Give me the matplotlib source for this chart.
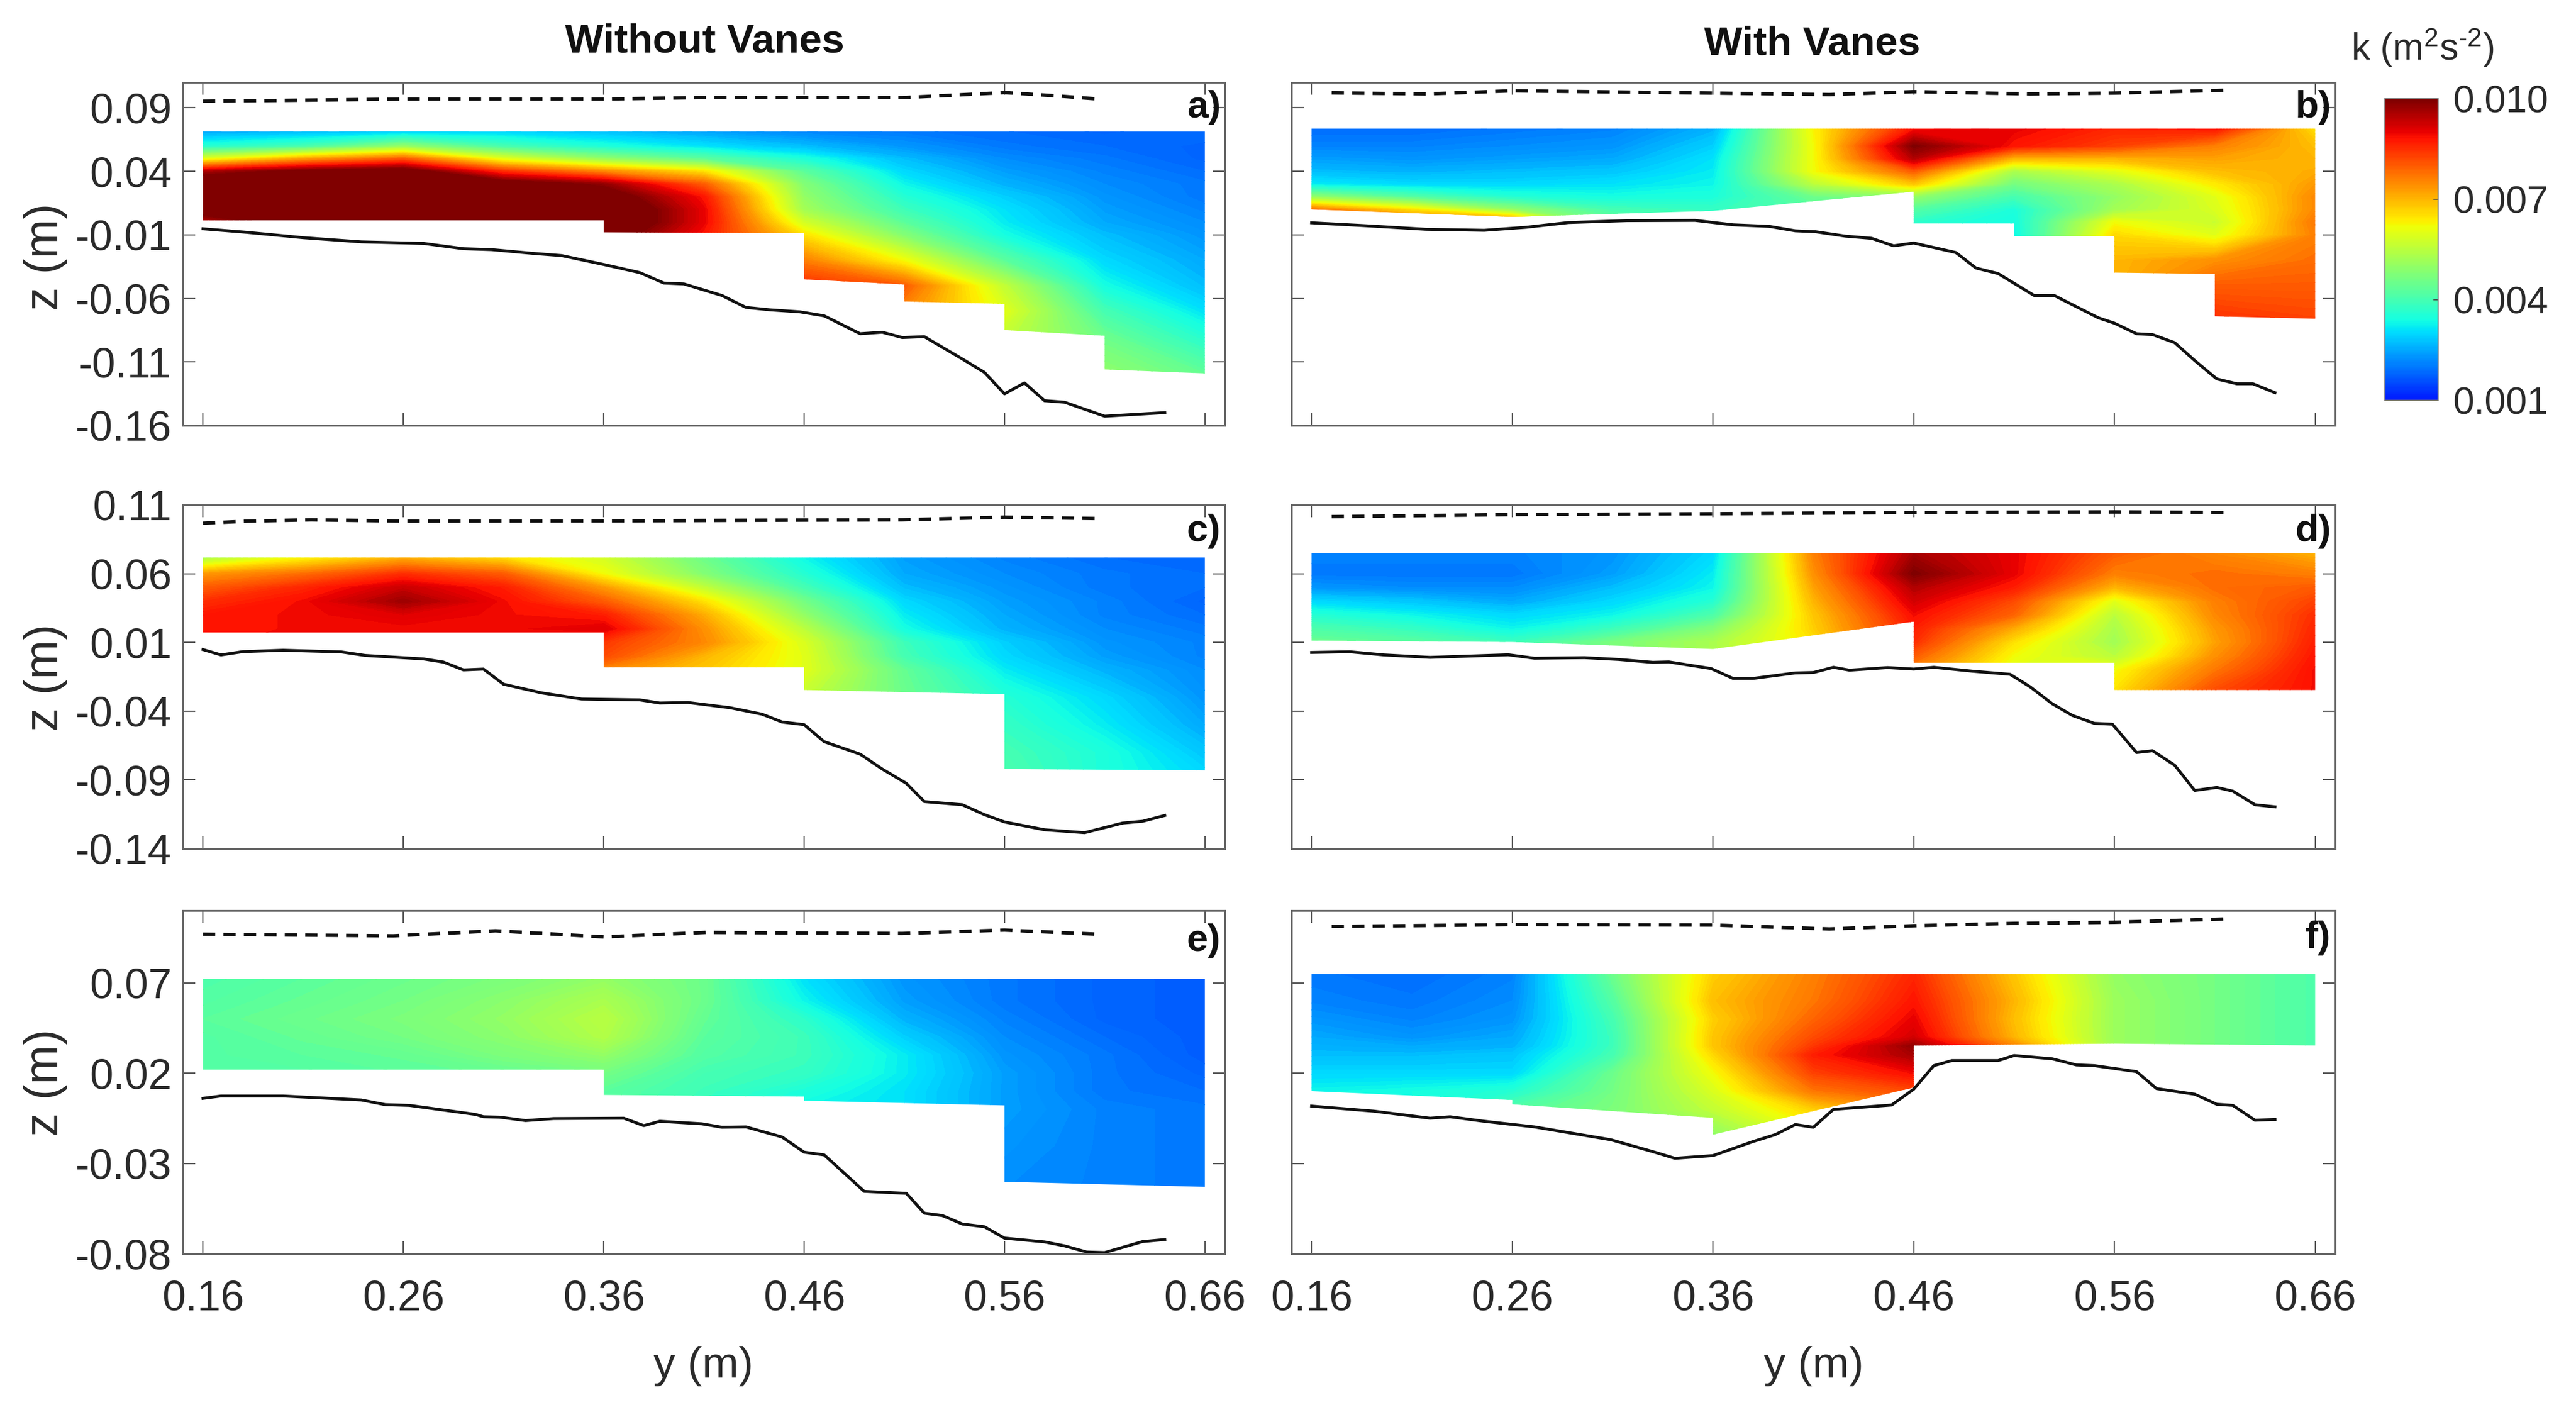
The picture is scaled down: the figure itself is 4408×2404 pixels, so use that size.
import numpy as np
import matplotlib
matplotlib.use("Agg")
import matplotlib.pyplot as plt
from matplotlib.colors import ListedColormap, Normalize
from matplotlib.cm import ScalarMappable
from matplotlib.patches import Polygon

W, H = 4408, 2404
plt.rcParams['font.family'] = ['Liberation Sans', 'DejaVu Sans']
plt.rcParams['mathtext.default'] = 'regular'

y_cols = [0.16, 0.21, 0.26, 0.31, 0.36, 0.41, 0.46, 0.51, 0.56, 0.61, 0.66]
y_ticks = [0.16, 0.26, 0.36, 0.46, 0.56, 0.66]
y_ticklabels = ['0.16', '0.26', '0.36', '0.46', '0.56', '0.66']

# k in units of 0.001, one list per y column, top to bottom
z_a = [0.072, 0.06, 0.05, 0.04, 0.03, 0.02, 0.01, 0.0, -0.01, -0.03, -0.05, -0.07, -0.09, -0.12]
k_a = [
    [2.4, 3.6, 6.0, 9.5, 11, 11, 10.5, 9.3, 9, 9, 9, 9, 9, 9],
    [2.6, 4, 7.2, 10.2, 11, 11, 11, 10.5, 10, 10, 10, 10, 10, 10],
    [2.8, 5, 8, 10.5, 11, 11, 11, 11, 11, 11, 11, 11, 11, 11],
    [2.9, 4, 6, 8.5, 10.5, 11, 11, 11, 11, 11, 11, 11, 11, 11],
    [2.7, 3.5, 5, 7.5, 9.8, 10.5, 11, 11, 10.5, 10, 10, 10, 10, 10],
    [2.4, 3.1, 4.3, 6.5, 8, 8.8, 9, 9, 8.8, 8.5, 8.5, 8.5, 8.5, 8.5],
    [2.1, 2.7, 3.5, 4.3, 4.8, 5, 5.2, 5.8, 6.5, 7.6, 8.6, 8.6, 8.6, 8.6],
    [2.0, 2.3, 2.7, 3, 3.3, 3.6, 3.9, 4.3, 4.8, 6.2, 8, 7.5, 7.5, 7.5],
    [1.9, 2.0, 2.2, 2.4, 2.6, 2.9, 3.1, 3.2, 3.4, 4.3, 5.6, 6, 5.6, 5.6],
    [1.8, 1.9, 2.0, 2.1, 2.2, 2.3, 2.4, 2.5, 2.7, 3, 3.4, 4, 4.5, 5],
    [1.9, 1.8, 1.8, 1.9, 2.0, 2.0, 2.1, 2.2, 2.3, 2.5, 2.7, 3.1, 3.6, 4.4],
]
z_b = [0.0736, 0.06, 0.05, 0.04, 0.03, 0.02, 0.01, 0.0, -0.01, -0.03, -0.05, -0.077]
k_b = [
    [1.9, 2.1, 2.4, 2.7, 3.2, 5, 7.8, 7.8, 7.8, 7.8, 7.8, 7.8],
    [1.9, 2.1, 2.3, 2.6, 3, 4.2, 6.5, 8, 8, 8, 8, 8],
    [2.0, 2.2, 2.4, 2.7, 3, 3.6, 5, 8, 8, 8, 8, 8],
    [2.1, 2.3, 2.5, 2.8, 3.1, 3.4, 4, 4.5, 4.5, 4.5, 4.5, 4.5],
    [2.6, 2.9, 3.1, 3.2, 3.3, 3.5, 3.8, 4, 4, 4, 4, 4],
    [6.3, 6.2, 6.2, 6.2, 5.5, 4.5, 4.2, 4, 4, 4, 4, 4],
    [8.8, 10, 9.5, 8, 6.8, 5, 4.2, 3.7, 3.7, 3.7, 3.7, 3.7],
    [9, 8.8, 7, 5.3, 4.6, 4, 3.5, 3.4, 3.3, 3.3, 3.3, 3.3],
    [8.6, 8.3, 7, 6, 5.3, 5, 5.2, 6.2, 6.6, 7, 7, 7],
    [8.8, 7.6, 7.2, 6.9, 6.4, 6, 5.9, 5.7, 6, 7.4, 8, 8.5],
    [6.5, 6.9, 7, 7.1, 7.3, 7.5, 7.5, 7.7, 7.6, 7.8, 8, 8.3],
]
z_c = [0.072, 0.06, 0.05, 0.04, 0.03, 0.02, 0.01, 0.0, -0.01, -0.03, -0.05, -0.07, -0.085]
k_c = [
    [5.2, 7.3, 8, 8.5, 8.8, 8.8, 8.8, 8.8, 8.8, 8.8, 8.8, 8.8, 8.8],
    [6.2, 7.8, 8.6, 8.9, 8.9, 8.9, 9, 9, 9, 9, 9, 9, 9],
    [7, 8.5, 9.3, 9.7, 9.1, 8.9, 8.9, 8.9, 8.9, 8.9, 8.9, 8.9, 8.9],
    [6.5, 8, 8.7, 8.9, 8.9, 8.9, 8.9, 8.9, 8.9, 8.9, 8.9, 8.9, 8.9],
    [5.8, 6.2, 7.3, 8, 8.7, 9.1, 8.4, 8.2, 7.5, 7.5, 7.5, 7.5, 7.5],
    [4.5, 4.8, 5.6, 6.5, 7.1, 7.4, 7.5, 7, 6.8, 6.8, 6.8, 6.8, 6.8],
    [3.3, 3.6, 4, 4.6, 5, 5.5, 5.9, 6, 6, 5.6, 5.6, 5.6, 5.6],
    [2.4, 2.5, 2.7, 3, 3.2, 3.4, 3.9, 4, 4.4, 4.5, 4.5, 4.5, 4.5],
    [2.1, 2.2, 2.3, 2.4, 2.5, 2.6, 2.9, 3, 3.2, 3.6, 3.8, 4, 4.1],
    [1.9, 2.0, 2.0, 2.1, 2.1, 2.2, 2.3, 2.4, 2.6, 3, 3.2, 3.5, 3.5],
    [1.9, 1.9, 1.9, 1.8, 1.9, 2.0, 2.1, 2.1, 2.2, 2.3, 2.5, 2.8, 3],
]
z_d = [0.0755, 0.06, 0.05, 0.04, 0.03, 0.02, 0.01, 0.0, -0.01, -0.025]
k_d = [
    [2.1, 2.0, 2.3, 3, 3.6, 4.1, 4.5, 4.5, 4.5, 4.5],
    [2.1, 2.0, 2.2, 2.8, 3.3, 3.8, 4.3, 4.3, 4.3, 4.3],
    [2.1, 2.0, 2.2, 2.5, 3, 3.3, 3.9, 3.9, 3.9, 3.9],
    [2.3, 2.4, 2.7, 3, 3.3, 3.9, 4.7, 4.7, 4.7, 4.7],
    [3, 3.2, 3.3, 3.6, 4.1, 4.8, 5.3, 5.3, 5.3, 5.3],
    [7.6, 7.4, 7.2, 7, 6.8, 6.7, 6.5, 6.5, 6.5, 6.5],
    [9.6, 10, 9.5, 9.2, 8.9, 8.7, 8.5, 8, 7.5, 7],
    [9, 9, 8.7, 8.2, 7.9, 7.1, 6.5, 6.2, 6, 6],
    [8, 7.6, 7, 6, 5.5, 5.3, 5.2, 5.5, 6.2, 6.5],
    [7.5, 7.8, 7.8, 7.6, 7.5, 7.3, 7.2, 7.4, 7.7, 8.2],
    [7, 7.6, 8, 8.3, 8.5, 8.6, 8.7, 8.8, 8.9, 8.9],
]
z_e = [0.0725, 0.06, 0.05, 0.04, 0.03, 0.02, 0.01, 0.0, -0.02, -0.045]
k_e = [
    [4.1, 4.2, 4.3, 4.2, 4.2, 4.2, 4.2, 4.2, 4.2, 4.2],
    [4.3, 4.4, 4.5, 4.4, 4.3, 4.2, 4.2, 4.2, 4.2, 4.2],
    [4.5, 4.6, 4.7, 4.6, 4.4, 4.3, 4.3, 4.3, 4.3, 4.3],
    [4.7, 4.9, 5, 4.9, 4.7, 4.4, 4.4, 4.4, 4.4, 4.4],
    [5, 5.3, 5.5, 5.4, 5, 4.6, 4.3, 4.3, 4.3, 4.3],
    [4.5, 4.5, 4.4, 4.3, 4.2, 4, 3.9, 3.8, 3.8, 3.8],
    [3.1, 3.3, 3.7, 3.9, 3.9, 3.8, 3.5, 3.3, 3.3, 3.3],
    [2.3, 2.4, 2.6, 2.9, 3.2, 3.2, 3.1, 3.1, 3.1, 3.1],
    [2.0, 2.0, 2.1, 2.2, 2.3, 2.4, 2.4, 2.4, 2.3, 2.2],
    [1.8, 1.8, 1.8, 1.9, 2.0, 2.0, 2.0, 2.1, 2.1, 2.1],
    [1.7, 1.7, 1.7, 1.7, 1.7, 1.8, 1.9, 2.0, 2.0, 2.0],
]
z_f = [0.075, 0.06, 0.05, 0.04, 0.035, 0.03, 0.02, 0.01, 0.0, -0.015]
k_f = [
    [2.0, 2.1, 2.3, 2.5, 2.6, 2.7, 3, 3.3, 3.3, 3.3],
    [1.9, 2.0, 2.1, 2.3, 2.5, 2.7, 3, 3.4, 3.4, 3.4],
    [2.1, 2.2, 2.3, 2.5, 2.6, 2.8, 3, 3.6, 4.2, 4.2],
    [4.5, 4.2, 4, 3.9, 3.9, 4, 4.5, 4.6, 4.7, 4.8],
    [6.7, 6.9, 6.7, 6.8, 6.8, 6.6, 6.2, 5.9, 5.6, 4.9],
    [7.6, 7.7, 7.9, 8.2, 8.4, 8.7, 8.3, 7.7, 6.7, 6],
    [8.6, 8.8, 9, 9.2, 9.8, 9.6, 8.9, 8.2, 7.4, 7],
    [6.8, 7, 6.9, 7, 7.5, 7.5, 7.5, 7.5, 7.5, 7.5],
    [5, 5.1, 5.1, 5.1, 5.1, 5.1, 5.1, 5.1, 5.1, 5.1],
    [4.6, 4.6, 4.6, 4.6, 4.6, 4.6, 4.6, 4.6, 4.6, 4.6],
    [4.1, 4.1, 4.1, 4.1, 4.1, 4.1, 4.1, 4.1, 4.1, 4.1],
]

# outline of the measured region: top edge, then lower edge right to left
edge_a_y = [0.66, 0.61, 0.61, 0.56, 0.56, 0.51, 0.51, 0.46, 0.46, 0.36, 0.36, 0.16]
edge_a_z = [-0.119, -0.1159, -0.0894, -0.0849, -0.0643, -0.0624, -0.049, -0.045, -0.0087, -0.008, 0.0014, 0.0014]
top_a = 0.0713
edge_b_y = [0.66, 0.61, 0.61, 0.56, 0.56, 0.51, 0.51, 0.46, 0.46, 0.36, 0.26, 0.16]
edge_b_z = [-0.076, -0.0741, -0.0408, -0.0397, -0.011, -0.011, -0.001, -0.001, 0.0241, 0.0089, 0.0042, 0.0101]
top_b = 0.0736
edge_c_y = [0.66, 0.56, 0.56, 0.46, 0.46, 0.36, 0.36, 0.16]
edge_c_z = [-0.0831, -0.0821, -0.0276, -0.0246, -0.0081, -0.0081, 0.0172, 0.0172]
top_c = 0.0718
edge_d_y = [0.66, 0.56, 0.56, 0.46, 0.46, 0.36, 0.26, 0.16]
edge_d_z = [-0.0246, -0.0246, -0.0048, -0.0048, 0.0251, 0.0052, 0.0103, 0.0113]
top_d = 0.0751
edge_e_y = [0.66, 0.56, 0.56, 0.46, 0.46, 0.36, 0.36, 0.16]
edge_e_z = [-0.043, -0.0402, 0.0021, 0.0047, 0.007, 0.0079, 0.0219, 0.0219]
top_e = 0.0721
edge_f_y = [0.66, 0.56, 0.46, 0.46, 0.36, 0.36, 0.26, 0.26, 0.16]
edge_f_z = [0.0353, 0.0363, 0.0353, 0.012, -0.0141, -0.0048, 0.0027, 0.0051, 0.01]
top_f = 0.0749

# channel bed
bed_a_y = [0.16, 0.182, 0.21, 0.239, 0.27, 0.29, 0.304, 0.325, 0.339, 0.36, 0.378, 0.39, 0.4, 0.419, 0.431, 0.443, 0.458, 0.47, 0.488, 0.499, 0.509, 0.52, 0.539, 0.55, 0.56, 0.57, 0.58, 0.59, 0.61, 0.64]
bed_a_z = [-0.0052, -0.008, -0.0122, -0.0155, -0.0167, -0.0209, -0.0216, -0.0246, -0.0263, -0.0333, -0.0397, -0.0479, -0.0486, -0.0577, -0.0671, -0.069, -0.0706, -0.0737, -0.0878, -0.0866, -0.0908, -0.0901, -0.1077, -0.1182, -0.1351, -0.1265, -0.1405, -0.1417, -0.1527, -0.1499]
bed_b_y = [0.16, 0.187, 0.217, 0.246, 0.267, 0.288, 0.317, 0.351, 0.37, 0.388, 0.401, 0.411, 0.426, 0.439, 0.45, 0.46, 0.481, 0.491, 0.502, 0.52, 0.53, 0.552, 0.56, 0.571, 0.579, 0.59, 0.6, 0.611, 0.621, 0.629, 0.64]
bed_b_z = [-0.0005, -0.0028, -0.0056, -0.0064, -0.004, -0.0003, 0.0012, 0.0014, -0.0021, -0.0033, -0.0068, -0.0075, -0.011, -0.0127, -0.0186, -0.0164, -0.0239, -0.0361, -0.0404, -0.0577, -0.0577, -0.0753, -0.0795, -0.0878, -0.0885, -0.0948, -0.1089, -0.1234, -0.1272, -0.1272, -0.1342]
bed_c_y = [0.16, 0.169, 0.18, 0.2, 0.229, 0.241, 0.27, 0.28, 0.29, 0.3, 0.31, 0.329, 0.349, 0.378, 0.388, 0.402, 0.423, 0.439, 0.449, 0.46, 0.47, 0.488, 0.499, 0.511, 0.52, 0.539, 0.55, 0.56, 0.58, 0.6, 0.619, 0.629, 0.64]
bed_c_z = [0.0048, 0.0009, 0.0033, 0.0043, 0.0031, 0.0005, -0.002, -0.0043, -0.01, -0.0094, -0.0204, -0.0267, -0.0312, -0.0318, -0.0341, -0.0337, -0.0375, -0.0422, -0.0479, -0.0498, -0.0622, -0.0713, -0.0821, -0.0925, -0.1058, -0.1081, -0.1153, -0.1206, -0.1263, -0.1284, -0.1214, -0.1201, -0.1159]
bed_d_y = [0.16, 0.179, 0.196, 0.219, 0.258, 0.271, 0.296, 0.313, 0.33, 0.338, 0.359, 0.37, 0.38, 0.401, 0.41, 0.42, 0.428, 0.447, 0.46, 0.47, 0.489, 0.508, 0.518, 0.529, 0.539, 0.55, 0.559, 0.571, 0.579, 0.59, 0.6, 0.611, 0.619, 0.63, 0.64]
bed_d_z = [0.0027, 0.0032, 0.0009, -0.0009, 0.001, -0.0015, -0.0011, -0.0024, -0.0045, -0.0042, -0.009, -0.0162, -0.0162, -0.0122, -0.0119, -0.0081, -0.0102, -0.0083, -0.0094, -0.0081, -0.0109, -0.0132, -0.0223, -0.0346, -0.0431, -0.0489, -0.0495, -0.0701, -0.0688, -0.0793, -0.0977, -0.0955, -0.0982, -0.1081, -0.1096]
bed_e_y = [0.16, 0.169, 0.2, 0.216, 0.239, 0.251, 0.263, 0.296, 0.3, 0.308, 0.321, 0.335, 0.37, 0.38, 0.388, 0.409, 0.419, 0.431, 0.449, 0.46, 0.47, 0.49, 0.511, 0.52, 0.529, 0.539, 0.55, 0.56, 0.58, 0.59, 0.601, 0.61, 0.629, 0.64]
bed_e_z = [0.006, 0.0073, 0.0073, 0.0064, 0.0051, 0.0025, 0.0021, -0.0029, -0.0042, -0.0044, -0.0063, -0.0052, -0.005, -0.0091, -0.0067, -0.0081, -0.01, -0.0098, -0.0154, -0.0238, -0.0253, -0.0455, -0.0466, -0.0576, -0.0589, -0.0636, -0.0651, -0.0714, -0.0735, -0.0757, -0.0791, -0.0794, -0.0733, -0.0722]
bed_f_y = [0.16, 0.191, 0.219, 0.229, 0.246, 0.271, 0.309, 0.33, 0.341, 0.36, 0.38, 0.391, 0.401, 0.41, 0.42, 0.449, 0.46, 0.47, 0.479, 0.502, 0.51, 0.529, 0.541, 0.55, 0.571, 0.581, 0.6, 0.611, 0.619, 0.63, 0.64]
bed_f_z = [0.0017, -0.0011, -0.005, -0.0042, -0.0067, -0.0098, -0.0169, -0.0235, -0.0272, -0.0257, -0.0179, -0.0141, -0.0085, -0.01, -0.0001, 0.0023, 0.0111, 0.0241, 0.0269, 0.0269, 0.0297, 0.0279, 0.0245, 0.0241, 0.0208, 0.0114, 0.0083, 0.0027, 0.0021, -0.0061, -0.0057]

# water surface
surf_a_y = [0.16, 0.2635, 0.3595, 0.4065, 0.509, 0.534, 0.56, 0.586, 0.607]
surf_a_z = [0.0952, 0.0969, 0.0969, 0.098, 0.098, 0.0999, 0.102, 0.0994, 0.0969]
surf_b_y = [0.17, 0.217, 0.26, 0.36, 0.418, 0.46, 0.518, 0.56, 0.617]
surf_b_z = [0.1018, 0.1009, 0.1034, 0.1016, 0.1004, 0.1027, 0.1009, 0.1016, 0.1039]
surf_c_y = [0.16, 0.182, 0.214, 0.263, 0.362, 0.46, 0.509, 0.56, 0.607]
surf_c_z = [0.0967, 0.0982, 0.0992, 0.0982, 0.0984, 0.099, 0.0992, 0.1011, 0.1001]
surf_d_y = [0.17, 0.26, 0.36, 0.46, 0.56, 0.617]
surf_d_z = [0.1015, 0.103, 0.1036, 0.1045, 0.1049, 0.1045]
surf_e_y = [0.16, 0.255, 0.306, 0.36, 0.411, 0.509, 0.56, 0.607]
surf_e_z = [0.0969, 0.096, 0.0988, 0.0954, 0.0979, 0.0973, 0.0992, 0.0969]
surf_f_y = [0.17, 0.26, 0.36, 0.418, 0.46, 0.51, 0.56, 0.617]
surf_f_z = [0.1012, 0.1022, 0.102, 0.0998, 0.1016, 0.1029, 0.1035, 0.1054]

cbar_ticks = [0.001, 0.004, 0.007, 0.010]

cmap = ListedColormap(plt.cm.jet(np.linspace(0.15, 1.0, 256)))
norm = Normalize(0.001, 0.010)
levels = np.linspace(0.001, 0.010, 121)
FS = 52
TICK_COL = '#2a2a2a'


def box(l, t, r, b):
    return [l / W, 1 - b / H, (r - l) / W, (b - t) / H]


def draw_panel(rect, ylim, yticks, z, k, edge_y, edge_z, top, bed_y, bed_z, surf_y, surf_z, letter, letter_y, left, bottom):
    ax = fig.add_axes(box(*rect))
    kk = np.array(k).T * 0.001
    cs = ax.contourf(y_cols, z, kk, levels=levels, cmap=cmap, norm=norm, extend='both', antialiased=False)
    outline = np.column_stack([[0.16, 0.66] + edge_y, [top, top] + edge_z])
    cs.set_clip_path(Polygon(outline, closed=True, transform=ax.transData))
    ax.plot(bed_y, bed_z, color='#111111', lw=3.6)
    ax.plot(surf_y, surf_z, color='#111111', lw=4.2, dashes=(3.6, 2.4))
    ax.set_xlim(0.15, 0.67)
    ax.set_ylim(*ylim)
    ax.set_xticks(y_ticks)
    ax.set_yticks(yticks)
    ax.tick_params(direction='in', length=15, width=1.6, color='#555555', top=True, right=True,
                   labelsize=FS, labelcolor=TICK_COL, pad=14)
    ax.tick_params(axis='x', pad=32)
    if bottom:
        ax.set_xticklabels(y_ticklabels)
    else:
        ax.set_xticklabels([])
    if left:
        ax.set_yticklabels(['%.2f' % v for v in yticks])
    else:
        ax.set_yticklabels([])
    for s in ax.spines.values():
        s.set_color('#666666')
        s.set_linewidth(2.2)
    ax.text(0.996, letter_y, letter, transform=ax.transAxes, ha='right', va='center',
            fontsize=47, fontweight='bold', color='#111111')
    return ax


fig = plt.figure(figsize=(W / 100, H / 100), dpi=100, facecolor='white')

draw_panel((313, 141, 2096, 728), (-0.16, 0.11), [-0.16, -0.11, -0.06, -0.01, 0.04, 0.09],
           z_a, k_a, edge_a_y, edge_a_z, top_a, bed_a_y, bed_a_z, surf_a_y, surf_a_z, 'a)', 0.927, True, False)
draw_panel((2210, 141, 3996, 728), (-0.16, 0.11), [-0.16, -0.11, -0.06, -0.01, 0.04, 0.09],
           z_b, k_b, edge_b_y, edge_b_z, top_b, bed_b_y, bed_b_z, surf_b_y, surf_b_z, 'b)', 0.927, False, False)
draw_panel((313, 864, 2096, 1452), (-0.14, 0.11), [-0.14, -0.09, -0.04, 0.01, 0.06, 0.11],
           z_c, k_c, edge_c_y, edge_c_z, top_c, bed_c_y, bed_c_z, surf_c_y, surf_c_z, 'c)', 0.923, True, False)
draw_panel((2210, 864, 3996, 1452), (-0.14, 0.11), [-0.14, -0.09, -0.04, 0.01, 0.06, 0.11],
           z_d, k_d, edge_d_y, edge_d_z, top_d, bed_d_y, bed_d_z, surf_d_y, surf_d_z, 'd)', 0.923, False, False)
draw_panel((313, 1558, 2096, 2145), (-0.08, 0.11), [-0.08, -0.03, 0.02, 0.07],
           z_e, k_e, edge_e_y, edge_e_z, top_e, bed_e_y, bed_e_z, surf_e_y, surf_e_z, 'e)', 0.911, True, True)
draw_panel((2210, 1558, 3996, 2145), (-0.08, 0.11), [-0.08, -0.03, 0.02, 0.07],
           z_f, k_f, edge_f_y, edge_f_z, top_f, bed_f_y, bed_f_z, surf_f_y, surf_f_z, 'f)', 0.92, False, True)


def label(x, y, s, **kw):
    fig.text(x / W, 1 - y / H, s, ha='center', va='center', color=kw.pop('color', TICK_COL), **kw)


label(1206, 72, 'Without Vanes', fontsize=50, fontweight='bold', color='#111111')
label(3101, 76, 'With Vanes', fontsize=50, fontweight='bold', color='#111111')
for yc in (439, 1159, 1852):
    label(78, yc, 'z (m)', fontsize=58, rotation=90)
for xc in (1204, 3103):
    label(xc, 2338, 'y (m)', fontsize=54)
label(4145, 82, 'k (m$^2$s$^{\u20102}$)', fontsize=46)

cax = fig.add_axes(box(4081, 169, 4172, 685))
cb = fig.colorbar(ScalarMappable(norm=norm, cmap=cmap), cax=cax, ticks=cbar_ticks, format='%.3f')
cb.ax.tick_params(direction='in', length=6, width=1.2, color='#444444', labelsize=47, labelcolor=TICK_COL, pad=18)
cb.outline.set_edgecolor('#777777')
cb.outline.set_linewidth(1.4)

fig.savefig('out.png', dpi=100)
